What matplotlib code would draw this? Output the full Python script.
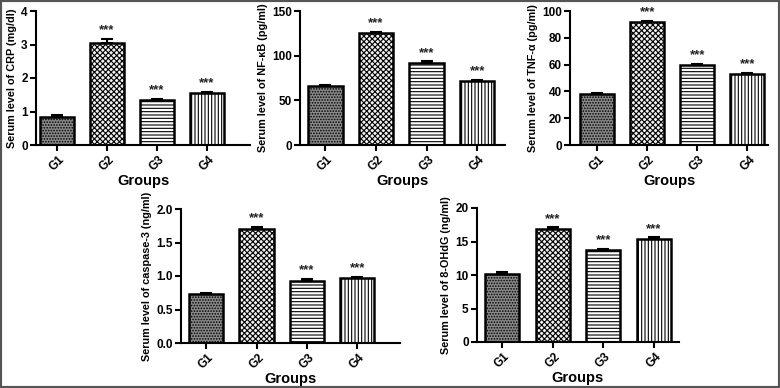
import matplotlib
matplotlib.use("Agg")
import matplotlib.pyplot as plt
from matplotlib.patches import Rectangle

plt.rcParams['font.family'] = ['Liberation Sans', 'DejaVu Sans']
plt.rcParams['font.weight'] = 'bold'
plt.rcParams['hatch.linewidth'] = 0.8

groups = ["G1", "G2", "G3", "G4"]

crp = [0.85, 3.05, 1.33, 1.55]
crp_err = [0.05, 0.12, 0.04, 0.04]
nfkb = [66, 125, 92, 72]
nfkb_err = [1.0, 1.5, 1.5, 1.0]
tnf = [38, 92, 60, 53]
tnf_err = [0.6, 0.8, 0.8, 0.6]
casp = [0.73, 1.70, 0.93, 0.97]
casp_err = [0.02, 0.03, 0.02, 0.02]
ohdg = [10.2, 16.8, 13.8, 15.4]
ohdg_err = [0.2, 0.3, 0.15, 0.2]
stars = ["", "***", "***", "***"]

panels = [
    dict(vals=crp, err=crp_err, ylabel="Serum level of CRP (mg/dl)", ylim=4, yticks=[0, 1, 2, 3, 4],
         fmt="{:g}", pos=(36, 11, 250, 145), xlim=(-0.42, 3.86)),
    dict(vals=nfkb, err=nfkb_err, ylabel="Serum level of NF-κB (pg/ml)", ylim=150, yticks=[0, 50, 100, 150],
         fmt="{:g}", pos=(300, 11, 505, 145), xlim=(-0.5, 3.55)),
    dict(vals=tnf, err=tnf_err, ylabel="Serum level of TNF-α (pg/ml)", ylim=100, yticks=[0, 20, 40, 60, 80, 100],
         fmt="{:g}", pos=(570, 11, 768, 145), xlim=(-0.54, 3.41)),
    dict(vals=casp, err=casp_err, ylabel="Serum level of caspase-3 (ng/ml)", ylim=2.0, yticks=[0, 0.5, 1.0, 1.5, 2.0],
         fmt="{:.1f}", pos=(181, 209, 400, 343), xlim=(-0.5, 3.85)),
    dict(vals=ohdg, err=ohdg_err, ylabel="Serum level of 8-OHdG (ng/ml)", ylim=20, yticks=[0, 5, 10, 15, 20],
         fmt="{:g}", pos=(477, 208, 679, 342), xlim=(-0.5, 3.5)),
]

faces = ["#8a8a8a", "#f0f0f0", "white", "white"]
hatches = ["......", "xxxxxx", "-----", "|||||"]

W, H = 780, 388
fig = plt.figure(figsize=(W / 100, H / 100), dpi=100)
fig.patches.append(Rectangle((0, 0), 1, 1, transform=fig.transFigure, fill=False,
                             edgecolor="#555555", linewidth=3, zorder=10))

for p in panels:
    x0, y0, x1, y1 = p["pos"]
    ax = fig.add_axes([x0 / W, 1 - y1 / H, (x1 - x0) / W, (y1 - y0) / H])
    xs = list(range(len(groups)))
    for i in xs:
        ax.bar(i, p["vals"][i], width=0.68, color=faces[i], edgecolor="black",
               linewidth=1.8, hatch=hatches[i], zorder=2)
    ax.errorbar(xs, p["vals"], yerr=[[0] * 4, p["err"]], fmt="none", ecolor="black",
                elinewidth=1.5, capsize=4, capthick=1.5, zorder=3)
    for i in xs:
        if stars[i]:
            ax.text(i, p["vals"][i] + p["err"][i] + p["ylim"] * 0.02, stars[i],
                    ha="center", va="bottom", fontsize=9.5, fontweight="bold", color="#222")
    ax.set_ylim(0, p["ylim"])
    ax.set_xlim(*p["xlim"])
    ax.set_yticks(p["yticks"])
    ax.set_yticklabels([p["fmt"].format(v) for v in p["yticks"]], fontsize=8.5, fontweight="bold")
    ax.set_xticks(xs)
    ax.set_xticklabels(groups, rotation=45, fontsize=8.5, fontweight="bold", ha="center")
    ax.set_xlabel("Groups", fontsize=10.5, fontweight="bold", labelpad=1)
    ax.set_ylabel(p["ylabel"], fontsize=7.8, fontweight="bold", labelpad=3)
    for s in ["top", "right"]:
        ax.spines[s].set_visible(False)
    for s in ["left", "bottom"]:
        ax.spines[s].set_linewidth(1.5)
    ax.tick_params(axis="both", width=1.5, length=4, direction="out", pad=2)

fig.savefig("out.png", dpi=100)
